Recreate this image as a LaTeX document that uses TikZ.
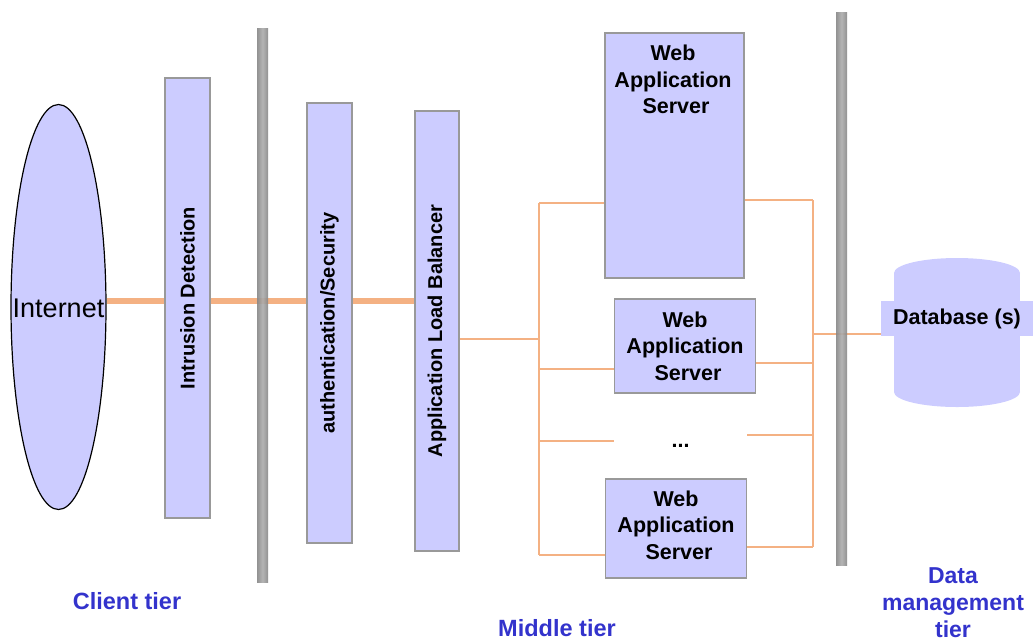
\documentclass[tikz,border=0pt]{standalone}
\usepackage{fontspec}
\setmainfont{Liberation Sans}
\usetikzlibrary{shapes.geometric}
\definecolor{boxfill}{HTML}{CCCCFF}
\definecolor{boxline}{HTML}{999999}
\definecolor{wire}{HTML}{F4B183}
\definecolor{tierblue}{HTML}{3333CC}

\tikzset{
  tierbox/.style={draw=boxline, line width=1.5pt, fill=boxfill, inner sep=0pt, rectangle},
  vlabel/.style={rotate=90, font=\fontsize{20}{24}\selectfont\bfseries, inner sep=0pt},
  srvtext/.style={align=center, font=\fontsize{21.5}{26.5}\selectfont\bfseries, inner sep=0pt},
  tierlabel/.style={text=tierblue, align=center, font=\fontsize{23.5}{27}\selectfont\bfseries},
  trunk/.style={draw=wire, line width=6pt},
  wirethin/.style={draw=wire, line width=1.3pt},
  firewall/.style={left color=gray!95, right color=gray!95, middle color=gray!65, draw=none, opacity=0.9}
}

\begin{document}
\begin{tikzpicture}[x=1pt,y=-1pt]
\useasboundingbox (0,0) rectangle (1034,641);

% client side
\node[ellipse, draw=black, line width=1.2pt, fill=boxfill, minimum width=95pt,
      minimum height=405pt, inner sep=0pt] (inet) at (58.5,307) {};
\node[font=\fontsize{27}{32}\selectfont, inner sep=0pt] (inettext) at (58.5,308) {Internet};

\node[tierbox, minimum width=45pt, minimum height=440pt] (idet) at (187.5,298) {};
\node[vlabel] (idettext) at (idet.center) {Intrusion Detection};

\node[tierbox, minimum width=45pt, minimum height=440pt] (auth) at (329.5,323) {};
\node[vlabel] (authtext) at (auth.center) {authentication/Security};

\node[tierbox, minimum width=44pt, minimum height=440pt] (lb) at (437,331) {};
\node[vlabel] (lbtext) at (lb.center) {Application Load Balancer};

% web application servers
\node[tierbox, minimum width=139pt, minimum height=245pt] (ws1) at (674.5,155.5) {};
\node[srvtext, anchor=north] (ws1text) at (673,45) {Web\\Application\\\hspace*{0.28em}Server};

\node[tierbox, minimum width=141pt, minimum height=94pt] (ws2) at (685,346) {};
\node[srvtext] (ws2text) at (ws2.center) {Web\\Application\\\hspace*{0.28em}Server};

\node[font=\fontsize{21.5}{26.5}\selectfont\bfseries, inner sep=0pt, minimum width=133pt] (dots) at (680.5,446) {...};

\node[tierbox, minimum width=141pt, minimum height=99pt] (ws3) at (676,528.5) {};
\node[srvtext] (ws3text) at (676,525) {Web\\Application\\\hspace*{0.28em}Server};

% database
\fill[boxfill] (894,273) rectangle (1020,392);
\fill[boxfill] (957,273) ellipse [x radius=63, y radius=15];
\fill[boxfill] (957,392) ellipse [x radius=63, y radius=15];
\node[fill=boxfill, minimum width=152pt, minimum height=35pt, inner sep=0pt,
      font=\fontsize{21.5}{25}\selectfont\bfseries] (db) at (957,318.5) {Database (s)};

% thick trunk through the client tier
\coordinate (trk) at (0,301);
\draw[trunk] (inet.east |- trk) -- (idet.west |- trk);
\draw[trunk] (idet.east |- trk) -- (auth.west |- trk);
\draw[trunk] (auth.east |- trk) -- (lb.west |- trk);

% distribution bus to the servers
\coordinate (blm) at (539,339);
\coordinate (bl1) at (539,203);
\coordinate (bl2) at (539,369);
\coordinate (bl3) at (539,441);
\coordinate (bl4) at (539,555);
\draw[wirethin] (lb.east |- blm) -- (blm);
\draw[wirethin] (bl1) -- (bl4);
\draw[wirethin] (bl1) -- (ws1.west |- bl1);
\draw[wirethin] (bl2) -- (ws2.west |- bl2);
\draw[wirethin] (bl3) -- (dots.west |- bl3);
\draw[wirethin] (bl4) -- (ws3.west |- bl4);

% collection bus to the database
\coordinate (brm) at (813,334);
\coordinate (br1) at (813,200);
\coordinate (br2) at (813,363);
\coordinate (br3) at (813,435);
\coordinate (br4) at (813,547);
\draw[wirethin] (ws1.east |- br1) -- (br1);
\draw[wirethin] (br1) -- (br4);
\draw[wirethin] (ws2.east |- br2) -- (br2);
\draw[wirethin] (dots.east |- br3) -- (br3);
\draw[wirethin] (ws3.east |- br4) -- (br4);
\draw[wirethin] (brm) -- (db.west |- brm);

% firewalls
\shade[firewall] (257,28) rectangle (268,582);
\shade[firewall] (836,12) rectangle (847,565);

% tier labels
\node[tierlabel] (client) at (127,601) {Client tier};
\node[tierlabel] (middle) at (557,628) {Middle tier};
\node[tierlabel, font=\fontsize{23}{27}\selectfont\bfseries] (data) at (953,603) {Data\\management\\tier};
\end{tikzpicture}
\end{document}
